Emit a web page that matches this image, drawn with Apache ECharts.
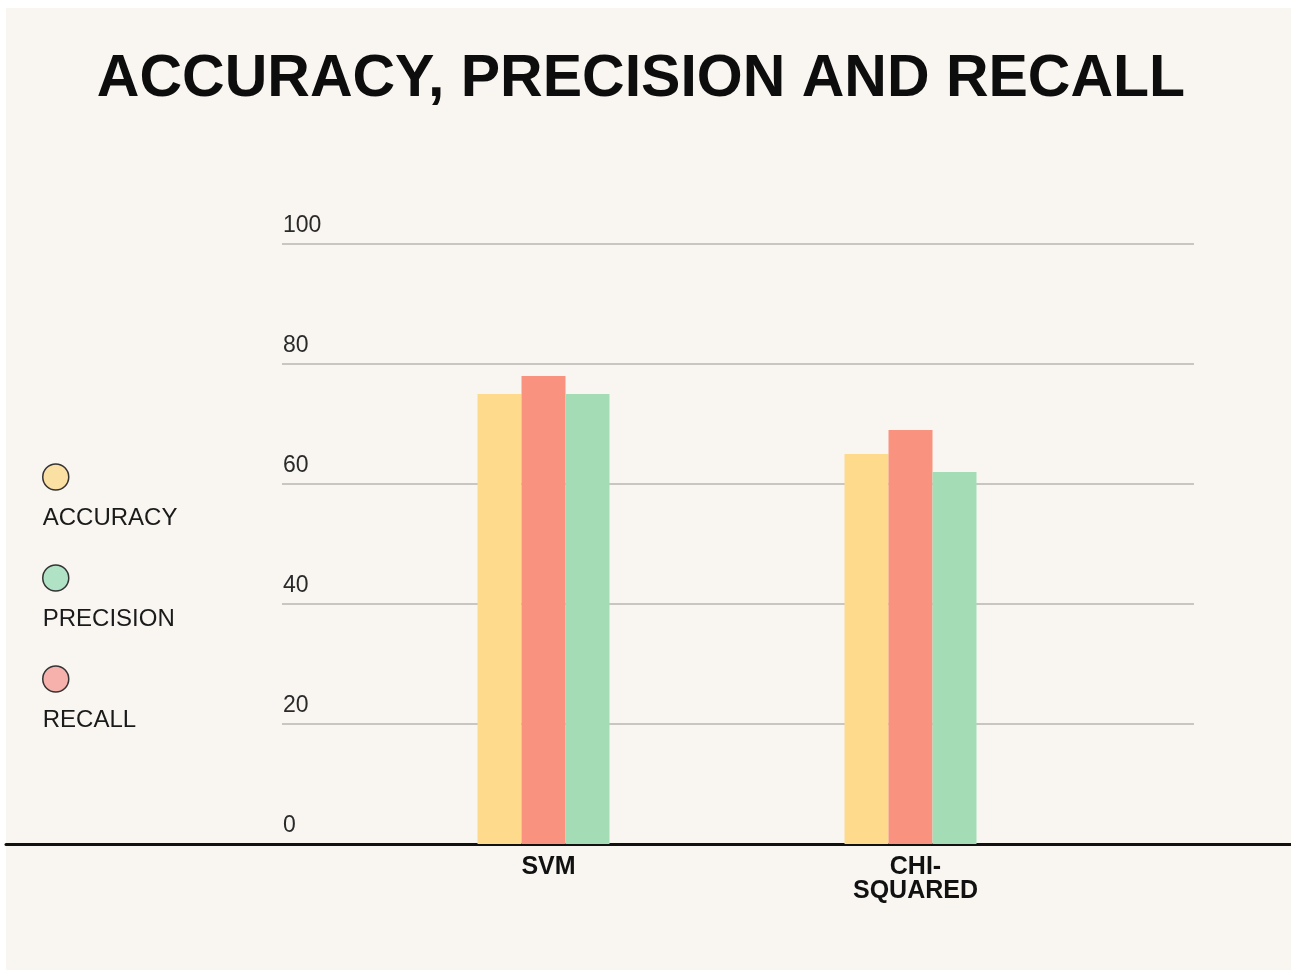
<!DOCTYPE html>
<html>
<head>
<meta charset="utf-8">
<script src="https://cdn.jsdelivr.net/npm/echarts@6/dist/echarts.min.js"></script>
<style>
html,body{margin:0;padding:0;background:#ffffff;}
#bg{position:absolute;left:6px;top:8px;width:1285px;height:962px;background:#f9f6f2;}
#c{position:absolute;left:0;top:0;width:1291px;height:973px;}
</style>
</head>
<body>
<div id="bg"></div>
<div id="c"></div>
<script>
const categories = ['SVM', 'CHI-\nSQUARED'];
const seriesNames = ['ACCURACY', 'RECALL', 'PRECISION'];
const legendOrder = ['ACCURACY', 'PRECISION', 'RECALL'];
const accuracy = [75, 65];
const recall = [78, 69];
const precision = [75, 62];
const yMin = 0, yMax = 100, yStep = 20;

const barColors = {ACCURACY: '#fdda8c', RECALL: '#f9937f', PRECISION: '#a4ddb5'};
const legendColors = {ACCURACY: '#fbe0a3', PRECISION: '#b0e3c6', RECALL: '#f6b1ac'};
const values = {ACCURACY: accuracy, RECALL: recall, PRECISION: precision};

const chart = echarts.init(document.getElementById('c'), null, {renderer: 'canvas'});
const font = 'Liberation Sans, Arial, sans-serif';

const option = {
  backgroundColor: 'transparent',
  animation: false,
  title: {
    text: 'ACCURACY, PRECISION AND RECALL',
    left: 636, top: 45, textAlign: 'center',
    textStyle: {fontFamily: font, fontSize: 59, fontWeight: 'bold', color: '#0d0d0d'}
  },
  legend: {
    orient: 'vertical', left: 42, top: 458, padding: 0,
    icon: 'circle', itemWidth: 26, itemHeight: 26, itemGap: 29,
    selectedMode: false,
    itemStyle: {borderColor: '#333', borderWidth: 1.5},
    formatter: function (name) { return '{s| }\n{t|' + name + '}'; },
    textStyle: {
      fontFamily: font, fontSize: 24, color: '#1a1a1a', padding: [0, 0, 0, -31],
      rich: {
        s: {height: 82, fontSize: 10},
        t: {fontFamily: font, fontSize: 24, color: '#1a1a1a', height: 28}
      }
    },
    data: legendOrder.map(n => ({name: n, itemStyle: {color: legendColors[n]}}))
  },
  grid: [
    {left: 282, right: 97, top: 244, bottom: 129},
    {left: 360, right: 197, top: 244, bottom: 129},
    {left: 6, right: 0, top: 244, bottom: 129}
  ],
  xAxis: [
    {gridIndex: 0, type: 'value', min: 0, max: 1, show: false},
    {gridIndex: 1, type: 'category', data: categories,
      axisLine: {show: false}, axisTick: {show: false},
      axisLabel: {fontFamily: font, fontSize: 25, fontWeight: 'bold', color: '#111', margin: 11, lineHeight: 24, padding: [0, 0, 0, 10]}},
    {gridIndex: 2, type: 'value', min: 0, max: 1,
      axisLine: {show: true, lineStyle: {color: '#111', width: 3}},
      axisTick: {show: false}, axisLabel: {show: false}, splitLine: {show: false}}
  ],
  yAxis: [
    {gridIndex: 0, type: 'value', min: yMin, max: yMax, interval: yStep,
      axisLine: {show: false}, axisTick: {show: false},
      axisLabel: {inside: true, margin: 1, align: 'left', verticalAlign: 'bottom', padding: [0, 0, 7, 0],
        fontFamily: font, fontSize: 23, color: '#2a2a2a'},
      splitLine: {show: true, lineStyle: {color: '#c9c6c1', width: 2}}},
    {gridIndex: 1, type: 'value', min: yMin, max: yMax, show: false},
    {gridIndex: 2, type: 'value', min: 0, max: 1, show: false}
  ],
  series: seriesNames.map(n => ({
    name: n, type: 'bar', xAxisIndex: 1, yAxisIndex: 1,
    barWidth: 44, barGap: '0%',
    itemStyle: {color: barColors[n]},
    data: values[n]
  }))
};
chart.setOption(option);
</script>
</body>
</html>
